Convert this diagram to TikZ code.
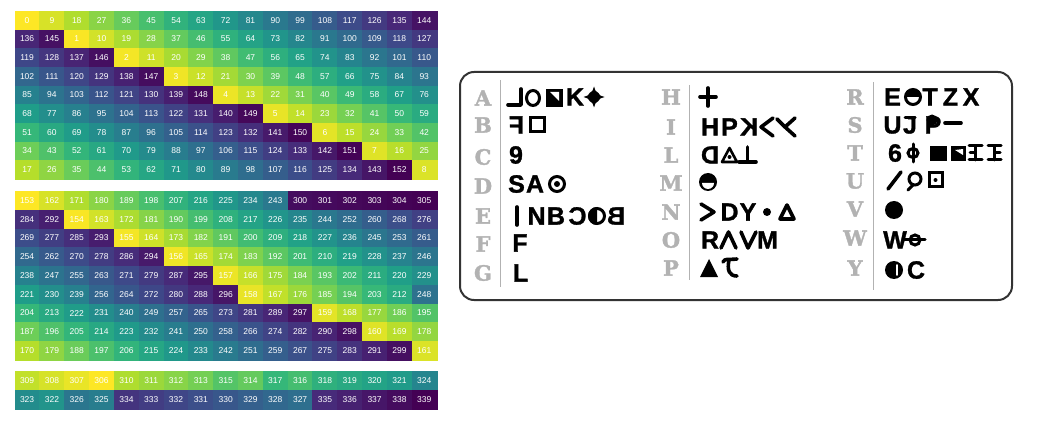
\documentclass[tikz,border=0pt]{standalone}
\usepackage{fontspec}
\usepackage{tikz}
\setsansfont{Liberation Sans}
\newfontfamily\keyfont[FakeBold=1.6]{DejaVu Serif Bold}
\newfontfamily\runefont[FakeBold=1.2]{Liberation Sans Bold}

\definecolor{vir0}{HTML}{FDE725}
\definecolor{vir1}{HTML}{B5DE2B}
\definecolor{vir2}{HTML}{6ECE58}
\definecolor{vir3}{HTML}{35B779}
\definecolor{vir4}{HTML}{1F9E89}
\definecolor{vir5}{HTML}{26828E}
\definecolor{vir6}{HTML}{31688E}
\definecolor{vir7}{HTML}{3E4989}
\definecolor{vir8}{HTML}{482878}
\definecolor{vir9}{HTML}{440154}
\definecolor{vir10}{HTML}{440154}

% name, top, row height, lowest value, value span, rows
\newcommand{\heatgrid}[6]{
    \foreach \rowlist [count=\r] in {#6} {
        \foreach \v [count=\c] in \rowlist {
            \pgfmathsetmacro{\t}{(\v-#4)/#5*9}
            \pgfmathtruncatemacro{\k}{floor(\t)}
            \pgfmathtruncatemacro{\m}{\k+1}
            \pgfmathsetmacro{\p}{(\m-\t)*100}
            \node[cell,minimum height=#3pt,fill=vir\k!\p!vir\m,draw=vir\k!\p!vir\m]
                (#1-\r-\c) at ({14.7+(\c-0.5)*24.82},{#2+(\r-0.5)*#3}) {\v};
        }
    }
}

\begin{document}
\begin{tikzpicture}[
                            x=1pt,
                            y=-1pt,
                            semithick
                        ]
                        \tikzstyle{cell}=[inner sep=0pt,line width=0.1pt,minimum width=24.82pt,text=white,font=\sffamily\fontsize{8.5}{8.5}\selectfont]
                        \tikzstyle{keyletter}=[inner sep=0pt,text=black!30,font=\keyfont\fontsize{21}{21}\selectfont]
                        \tikzstyle{rune}=[inner sep=0pt,text=black,font=\runefont\fontsize{25}{25}\selectfont]
                        \tikzstyle{stroke}=[line width=3.6pt,line cap=round,line join=round]
                        \tikzstyle{divider}=[line width=1pt,draw=black!30]

                        \useasboundingbox (0,0) rectangle (1047,422);

                        \heatgrid{top}{11}{18.67}{0}{152}{
                            {0,9,18,27,36,45,54,63,72,81,90,99,108,117,126,135,144},
                            {136,145,1,10,19,28,37,46,55,64,73,82,91,100,109,118,127},
                            {119,128,137,146,2,11,20,29,38,47,56,65,74,83,92,101,110},
                            {102,111,120,129,138,147,3,12,21,30,39,48,57,66,75,84,93},
                            {85,94,103,112,121,130,139,148,4,13,22,31,40,49,58,67,76},
                            {68,77,86,95,104,113,122,131,140,149,5,14,23,32,41,50,59},
                            {51,60,69,78,87,96,105,114,123,132,141,150,6,15,24,33,42},
                            {34,43,52,61,70,79,88,97,106,115,124,133,142,151,7,16,25},
                            {17,26,35,44,53,62,71,80,89,98,107,116,125,134,143,152,8}}
                        \heatgrid{mid}{191}{18.78}{153}{152}{
                            {153,162,171,180,189,198,207,216,225,234,243,300,301,302,303,304,305},
                            {284,292,154,163,172,181,190,199,208,217,226,235,244,252,260,268,276},
                            {269,277,285,293,155,164,173,182,191,200,209,218,227,236,245,253,261},
                            {254,262,270,278,286,294,156,165,174,183,192,201,210,219,228,237,246},
                            {238,247,255,263,271,279,287,295,157,166,175,184,193,202,211,220,229},
                            {221,230,239,256,264,272,280,288,296,158,167,176,185,194,203,212,248},
                            {204,213,222,231,240,249,257,265,273,281,289,297,159,168,177,186,195},
                            {187,196,205,214,223,232,241,250,258,266,274,282,290,298,160,169,178},
                            {170,179,188,197,206,215,224,233,242,251,259,267,275,283,291,299,161}}
                        \heatgrid{low}{371}{18.85}{306}{33}{
                            {309,308,307,306,310,311,312,313,315,314,317,316,318,319,320,321,324},
                            {323,322,326,325,334,333,332,331,330,329,328,327,335,336,337,338,339}}

                        \node[draw=black!80,line width=2pt,rounded corners=14pt,minimum width=552pt,minimum height=228pt,inner sep=0pt] (panel) at (736,186) {};

                        \node[keyletter] (keyA) at (483,98) {A};
                        \node[keyletter] (keyB) at (483,125) {B};
                        \node[keyletter] (keyC) at (483,157) {C};
                        \node[keyletter] (keyD) at (483,186) {D};
                        \node[keyletter] (keyE) at (483,216) {E};
                        \node[keyletter] (keyF) at (483,244) {F};
                        \node[keyletter] (keyG) at (483,273) {G};
                        \node[keyletter] (keyH) at (671,97) {H};
                        \node[keyletter] (keyI) at (671,127) {I};
                        \node[keyletter] (keyL) at (671,155) {L};
                        \node[keyletter] (keyM) at (671,183) {M};
                        \node[keyletter] (keyN) at (671,212) {N};
                        \node[keyletter] (keyO) at (671,240) {O};
                        \node[keyletter] (keyP) at (671,268) {P};
                        \node[keyletter] (keyR) at (855,97) {R};
                        \node[keyletter] (keyS) at (855,125) {S};
                        \node[keyletter] (keyT) at (855,153) {T};
                        \node[keyletter] (keyU) at (855,181) {U};
                        \node[keyletter] (keyV) at (855,209) {V};
                        \node[keyletter] (keyW) at (855,238) {W};
                        \node[keyletter] (keyY) at (855,268) {Y};

                        \draw[divider] (500,80) -- (500,287);
                        \draw[divider] (689,85) -- (689,280);
                        \draw[divider] (873,82) -- (873,290);

                        % first column
                        \draw[stroke] (521,89) -- (521,105) -- (508,105);
                        \draw[line width=3pt] (533,98) ellipse (6.5 and 7.5);
                        \fill (546,89) rectangle (563,107);
                        \fill[white] (550,92) -- (559,92) -- (559,101) -- cycle;
                        \node[rune] (a4) at (575,97) {K};
                        \fill (583.5,97) .. controls (589,96) and (593,92) .. (594,86.5) .. controls (595,92) and (599,96) .. (604.5,97) .. controls (599,98) and (595,102) .. (594,107.5) .. controls (593,102) and (589,98) .. (583.5,97) -- cycle;
                        \fill (594,97) circle (6);

                        \node[rune] (b1) at (516.5,125) {\reflectbox{F}};
                        \draw[line width=3pt] (530,118) rectangle (544,132);

                        \node[rune] (c1) at (516,155) {9};

                        \node[rune] (d1) at (516.5,184) {S};
                        \node[rune] (d2) at (535,184) {A};
                        \draw[line width=3pt] (557,184) circle (7.5);
                        \fill (557,184) circle (3);

                        \draw[stroke] (517,207) -- (517,225);
                        \node[rune] (e2) at (536.5,216) {N};
                        \node[rune] (e3) at (556,216) {B};
                        \node[rune] (e4) at (577.5,216) {\reflectbox{C}};
                        \draw[line width=3pt] (597,216) circle (7.5);
                        \fill (597,207) arc (270:90:9) -- cycle;
                        \node[rune] (e6) at (616,216) {\reflectbox{B}};

                        \node[rune] (f1) at (520,243) {F};
                        \node[rune] (g1) at (520.5,273) {L};

                        % second column
                        \draw[stroke] (700,97) -- (716,97);
                        \draw[stroke] (708,88) -- (708,106);

                        \node[rune] (i1) at (710,127) {H};
                        \node[rune] (i2) at (729.5,127) {P};
                        \node[rune] (i3) at (749,127) {\reflectbox{K}};
                        \draw[stroke] (773,118) -- (761,127) -- (773,136);
                        \draw[stroke] (777,119) -- (785,127) -- (795,118);
                        \draw[stroke] (785,127) -- (795,136);

                        \node[rune] (l1) at (710,155) {\reflectbox{D}};
                        \draw[line width=2.6pt,line join=round] (729.5,148) -- (737,162) -- (722,162) -- cycle;
                        \fill (729.5,157) circle (2);
                        \draw[stroke] (747.5,147) -- (747.5,162);
                        \draw[stroke] (739,162) -- (756,162);

                        \fill (708,182) circle (9);
                        \fill[white] (702,183) arc (180:0:6) -- cycle;

                        \draw[stroke] (701,204) -- (714,212) -- (701,220);
                        \node[rune] (n2) at (729.5,212) {D};
                        \node[rune] (n3) at (748,212) {Y};
                        \fill (767,212) circle (4);
                        \draw[stroke] (787,205) -- (794,219) -- (780,219) -- cycle;

                        \node[rune] (o1) at (710,240) {R};
                        \draw[stroke] (721,248) -- (728.5,232) -- (736,248);
                        \draw[stroke] (741,232) -- (748,248) -- (756,232);
                        \node[rune] (o4) at (767.5,240) {M};

                        \fill (709,259) -- (718,277) -- (700,277) -- cycle;
                        \draw[stroke] (723,262) .. controls (725,258) and (728,260) .. (737,259);
                        \draw[stroke] (729,260) .. controls (727,270) and (729,276) .. (737,276);

                        % third column
                        \node[rune] (r1) at (892.5,97) {E};
                        \draw[line width=3pt] (913,97) circle (7.5);
                        \fill (905.5,97) arc (180:360:7.5) -- cycle;
                        \node[rune] (r3) at (930,97) {T};
                        \node[rune] (r4) at (950.5,97) {Z};
                        \node[rune] (r5) at (971,97) {X};

                        \node[rune] (s1) at (892.5,125) {U};
                        \node[rune] (s2) at (910,125) {J};
                        \draw[line width=3pt,line cap=round] (905,117.5) -- (915,117.5);
                        \node[rune] (s3) at (933,125) {P};
                        \fill (932,120) circle (5.5);
                        \draw[stroke] (945,123) -- (961,123);

                        \node[rune] (t1) at (895,153) {6};
                        \draw[line width=3pt,line cap=round] (913,144) -- (913,162);
                        \draw[line width=3pt] (913,153) ellipse (5 and 4.5);
                        \fill (930,146) rectangle (947,161);
                        \fill (951,146) rectangle (966,161);
                        \fill[white] (955,150) -- (963,149) -- (963,155) -- cycle;
                        \draw[line width=3pt,line cap=round] (969,146) -- (982,146) (969,160) -- (982,160) (975.5,146) -- (975.5,160) (970,153) -- (974,153);
                        \draw[line width=3pt,line cap=round] (988,146) -- (1001,146) (988,160) -- (1001,160) (994.5,146) -- (994.5,160) (996,153) -- (1000,153);

                        \draw[stroke] (888,189) -- (901,172);
                        \draw[line width=3pt] (915,179) circle (6);
                        \draw[line width=3pt,line cap=round] (913,185) -- (908,190);
                        \draw[line width=3pt] (929,173) rectangle (942,187);
                        \fill (935.5,180) circle (2);

                        \fill (894,210) circle (9);

                        \node[rune] (w1) at (895,240) {W};
                        \draw[line width=3pt,line cap=round] (903,240) -- (925,240);
                        \draw[line width=3pt] (915,240) circle (5);

                        \fill (894,270) circle (9);
                        \draw[white,line width=1.6pt,line cap=round] (897,265) -- (897,275);
                        \node[rune] (y2) at (916,270) {C};
                    \end{tikzpicture}
\end{document}
